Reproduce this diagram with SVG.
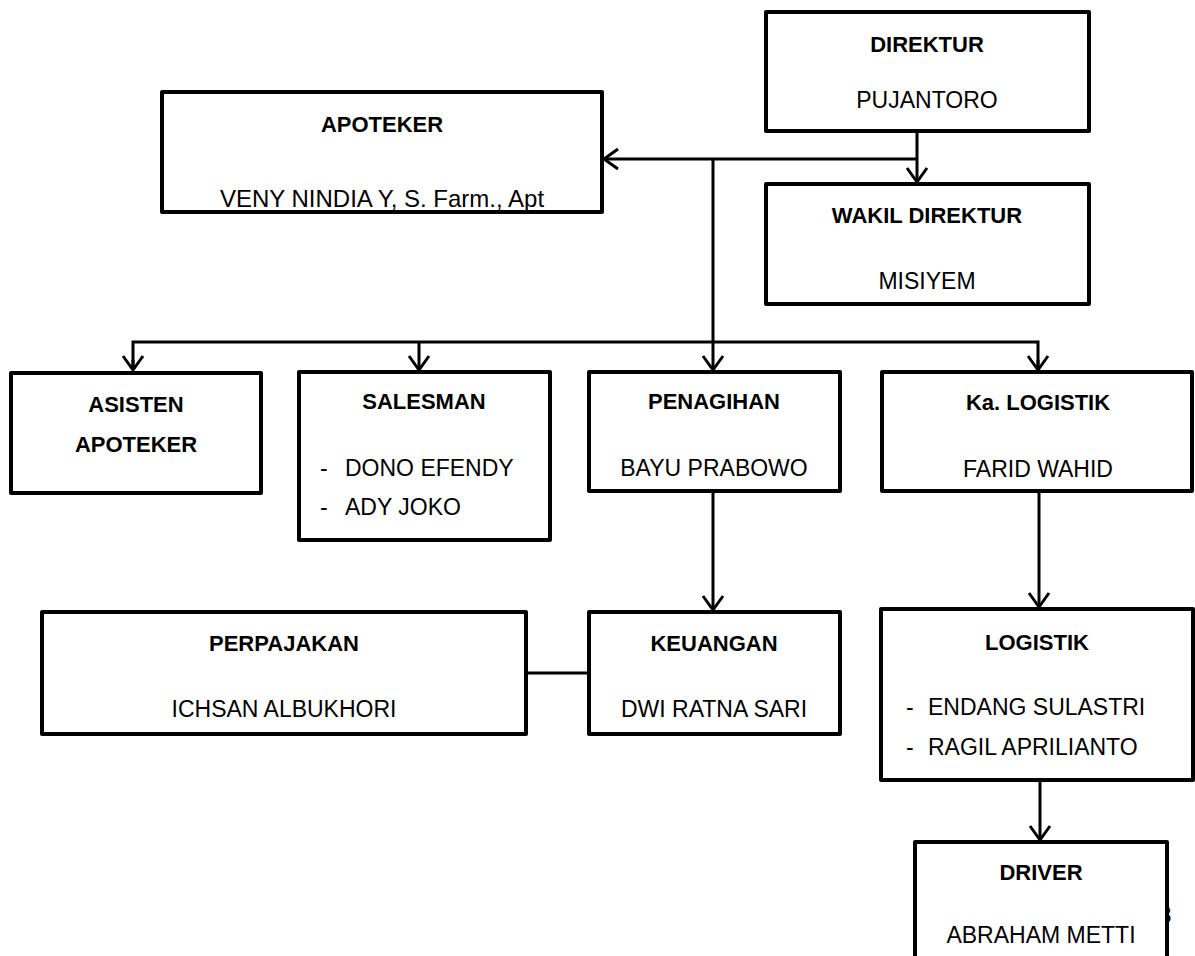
<svg xmlns="http://www.w3.org/2000/svg" width="1195" height="956" viewBox="0 0 1195 956">
<defs>
<style>
.box{fill:#fff;stroke:#000;stroke-width:4;stroke-linejoin:round}
.ln{fill:none;stroke:#000;stroke-width:3}
.b{font-family:"Liberation Sans",Arial,sans-serif;font-weight:bold;font-size:22px;fill:#000;text-anchor:middle}
.r{font-family:"Liberation Sans",Arial,sans-serif;font-size:23px;fill:#000;text-anchor:middle}
.l{font-family:"Liberation Sans",Arial,sans-serif;font-size:23px;fill:#000}
</style>
<marker id="arr" markerUnits="userSpaceOnUse" viewBox="-18 -13 21 26" markerWidth="21" markerHeight="26" refX="0" refY="0" orient="auto">
<path d="M-14,-10 L0,0 L-14,10" fill="none" stroke="#000" stroke-width="3"/>
</marker>
</defs>
<rect width="1195" height="956" fill="#fff"/>
<text class="b" x="1158" y="923" text-anchor="start" style="font-size:24px;text-anchor:start">3</text>
<g id="connectors">
<line class="ln" x1="917" y1="131" x2="917" y2="182" marker-end="url(#arr)"/>
<line class="ln" x1="917" y1="159" x2="604" y2="159" marker-end="url(#arr)"/>
<line class="ln" x1="713" y1="159" x2="713" y2="370" marker-end="url(#arr)"/>
<polyline class="ln" points="133,370 133,342 1038,342 1038,370"/>
<line class="ln" x1="133" y1="360" x2="133" y2="370" marker-end="url(#arr)"/>
<line class="ln" x1="419" y1="342" x2="419" y2="370" marker-end="url(#arr)"/>
<line class="ln" x1="1038" y1="360" x2="1038" y2="370" marker-end="url(#arr)"/>
<line class="ln" x1="713" y1="491" x2="713" y2="610" marker-end="url(#arr)"/>
<line class="ln" x1="526" y1="673" x2="589" y2="673"/>
<line class="ln" x1="1039" y1="491" x2="1039" y2="607" marker-end="url(#arr)"/>
<line class="ln" x1="1040" y1="780" x2="1040" y2="840" marker-end="url(#arr)"/>
</g>
<g id="direktur">
<rect class="box" x="766" y="12" width="323" height="119"/>
<text class="b" x="927" y="52">DIREKTUR</text>
<text class="r" x="927" y="108">PUJANTORO</text>
</g>
<g id="apoteker">
<rect class="box" x="162" y="92" width="440" height="120"/>
<text class="b" x="382" y="132">APOTEKER</text>
<text class="r" x="382" y="207" style="font-size:24px">VENY NINDIA Y, S. Farm., Apt</text>
</g>
<g id="wakil-direktur">
<rect class="box" x="766" y="184" width="323" height="120"/>
<text class="b" x="927" y="223">WAKIL DIREKTUR</text>
<text class="r" x="927" y="289">MISIYEM</text>
</g>
<g id="asisten-apoteker">
<rect class="box" x="11" y="373" width="250" height="120"/>
<text class="b" x="136" y="412">ASISTEN</text>
<text class="b" x="136" y="452">APOTEKER</text>
</g>
<g id="salesman">
<rect class="box" x="299" y="372" width="251" height="168"/>
<text class="b" x="424" y="409">SALESMAN</text>
<text class="l" x="320" y="476">-</text>
<text class="l" x="345" y="476">DONO EFENDY</text>
<text class="l" x="320" y="515">-</text>
<text class="l" x="345" y="515">ADY JOKO</text>
</g>
<g id="penagihan">
<rect class="box" x="589" y="372" width="251" height="119"/>
<text class="b" x="714" y="409">PENAGIHAN</text>
<text class="r" x="714" y="476">BAYU PRABOWO</text>
</g>
<g id="ka-logistik">
<rect class="box" x="882" y="372" width="310" height="119"/>
<text class="b" x="1038" y="410">Ka. LOGISTIK</text>
<text class="r" x="1038" y="477">FARID WAHID</text>
</g>
<g id="perpajakan">
<rect class="box" x="42" y="612" width="484" height="122"/>
<text class="b" x="284" y="651">PERPAJAKAN</text>
<text class="r" x="284" y="717">ICHSAN ALBUKHORI</text>
</g>
<g id="keuangan">
<rect class="box" x="589" y="612" width="251" height="122"/>
<text class="b" x="714" y="651">KEUANGAN</text>
<text class="r" x="714" y="717">DWI RATNA SARI</text>
</g>
<g id="logistik">
<rect class="box" x="881" y="609" width="312" height="171"/>
<text class="b" x="1037" y="650">LOGISTIK</text>
<text class="l" x="906" y="715">-</text>
<text class="l" x="928" y="715">ENDANG SULASTRI</text>
<text class="l" x="906" y="755">-</text>
<text class="l" x="928" y="755">RAGIL APRILIANTO</text>
</g>
<g id="driver">
<rect class="box" x="915" y="842" width="252" height="130"/>
<text class="b" x="1041" y="880">DRIVER</text>
<text class="r" x="1041" y="943">ABRAHAM METTI</text>
</g>
</svg>
